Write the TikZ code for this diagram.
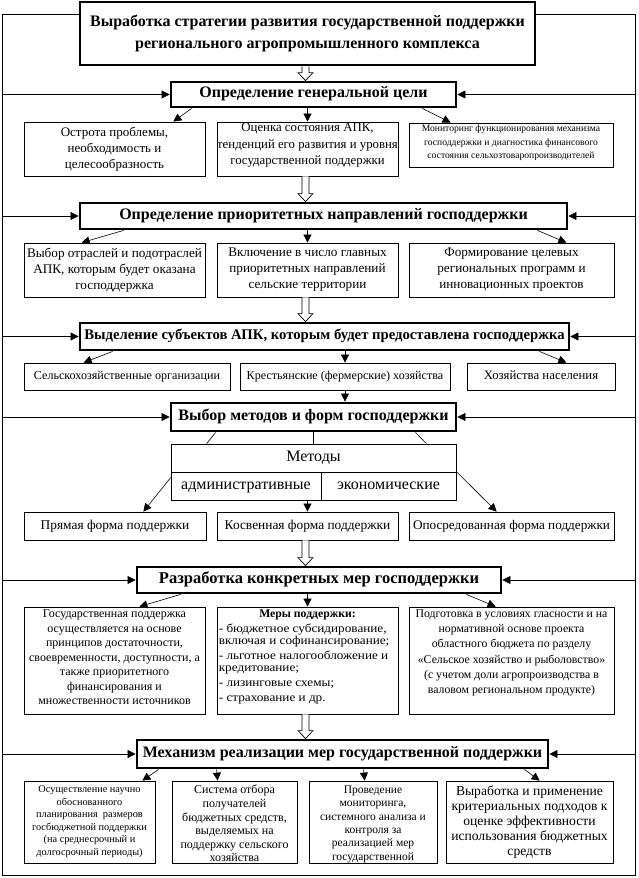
\documentclass[tikz,border=0pt]{standalone}
\usepackage{fontspec}
\setmainfont{Liberation Serif}
\newfontfamily\widefont{Liberation Serif}[FakeStretch=1.1]
\usetikzlibrary{arrows.meta,calc}
\newcommand\fs[2]{\fontsize{#1}{#2}\selectfont}
\newcommand\mkbox[7]{\node[#6,minimum width={#4-#2},minimum height={#5-#3}] (#1) at ({(#2+#4)/2},{(#3+#5)/2}) {#7};}
\newcommand\harrow[2]{\path[hol] let \p1=(#1.south), \p2=(#2.north) in (\x1-5.5pt,\y1) -- (\x1-5.5pt,\y2+8pt) -- (\x1-9.5pt,\y2+8pt) -- (\x1-2pt,\y2) -- (\x1+5.5pt,\y2+8pt) -- (\x1+1.5pt,\y2+8pt) -- (\x1+1.5pt,\y1);}
\begin{document}
\begin{tikzpicture}[x=1pt,y=-1pt,
 box/.style={draw,line width=0.75pt,fill=white,inner sep=1pt,align=center},
 tbox/.style={draw,line width=2.8pt,fill=white,inner sep=1pt,align=center},
 arr/.style={line width=0.6pt,-{Triangle[length=8pt,width=8pt]}},
 ln/.style={line width=0.6pt},
 hol/.style={draw,line width=0.7pt,fill=white},
 txt/.style={inner sep=0pt,align=center},
 one/.style={text height=8.5pt,text depth=2.5pt}]
\useasboundingbox (0,0) rectangle (638,878);
\coordinate (FTL) at (2,14);
\coordinate (FBR) at (635,875);
\draw[ln] (FTL) rectangle (FBR);

% title boxes
\mkbox{T1}{80}{2}{535}{65}{tbox,font=\fs{16}{22}\bfseries}{Выработка стратегии развития государственной поддержки\\регионального агропромышленного комплекса}
\mkbox{T2}{171}{82}{456}{107}{tbox,one,font=\fs{16}{18}\bfseries}{Определение генеральной цели}
\mkbox{T3}{80}{203}{567}{229}{tbox,one,font=\fs{16}{18}\bfseries}{Определение приоритетных направлений господдержки}
\mkbox{T4}{80}{323}{569}{350}{tbox,one,font=\fs{14.7}{18}\bfseries}{Выделение субъектов АПК, которым будет предоставлена господдержка}
\mkbox{T5}{171}{403}{456}{431}{tbox,one,font=\fs{16}{18}\bfseries}{Выбор методов и форм господдержки}
\mkbox{T6}{137}{567}{501}{593}{tbox,one,font=\fs{16.5}{18}\bfseries}{Разработка конкретных мер господдержки}
\mkbox{T7}{137}{740}{548}{768}{tbox,one,font=\fs{16}{18}\bfseries}{Механизм реализации мер государственной поддержки}

% row 2
\mkbox{R2A}{24}{122}{205}{176}{box,font=\fs{13}{16}}{Острота проблемы,\\необходимость и\\целесообразность}
\mkbox{R2B}{217}{122}{398}{176}{box}{}
\node[txt,anchor=north,font=\fs{12.8}{16.5}] (R2Bt) at ([yshift=-1.5pt]R2B.north) {Оценка состояния АПК,\\тенденций его развития и уровня\\государственной поддержки};
\mkbox{R2C}{409}{123}{613}{167}{box}{}
\node[txt,anchor=north,font=\fs{9.6}{13.5}] (R2Ct) at ([yshift=-2.5pt]R2C.north) {Мониторинг функционирования механизма\\господдержки и диагностика финансового\\состояния сельхозтоваропроизводителей};

% row 3
\mkbox{R3A}{24}{243}{205}{297}{box,font=\fs{13.2}{16}}{Выбор отраслей и подотраслей\\АПК, которым будет оказана\\господдержка}
\mkbox{R3B}{217}{243}{398}{297}{box,font=\fs{13.2}{16}}{Включение в число главных\\приоритетных направлений\\сельские территории}
\mkbox{R3C}{409}{243}{614}{297}{box,font=\fs{13.2}{16}}{Формирование целевых\\региональных программ и\\инновационных проектов}

% row 4
\mkbox{R4A}{24}{363}{230}{390}{box,one,font=\fs{12.1}{14}}{Сельскохозяйственные организации}
\mkbox{R4B}{240}{363}{450}{390}{box,one,font=\fs{12.1}{14}}{Крестьянские (фермерские) хозяйства}
\mkbox{R4C}{467}{363}{615}{390}{box,one,font=\fs{12.8}{14}}{Хозяйства населения}

% methods
\mkbox{Mt}{171}{444}{456}{472}{box,one,font=\fs{16}{18}}{Методы}
\mkbox{Ma}{171}{472}{321}{500}{box,one,font=\fs{16}{18}}{административные}
\mkbox{Me}{321}{472}{456}{500}{box,one,font=\fs{16}{18}}{экономические}

% row 5
\mkbox{R5A}{24}{512}{206}{540}{box,one,font=\fs{13.4}{14}}{Прямая форма поддержки}
\mkbox{R5B}{217}{512}{398}{540}{box,one,font=\fs{13.4}{14}}{Косвенная форма поддержки}
\mkbox{R5C}{409}{512}{614}{540}{box,one,font=\fs{13.2}{14}}{Опосредованная форма поддержки}

% row 6
\mkbox{R6A}{24}{607}{205}{714}{box}{}
\mkbox{R6B}{217}{607}{398}{714}{box}{}
\mkbox{R6C}{409}{607}{614}{714}{box}{}
\node[txt,anchor=north,font=\fs{12}{14.5}] (R6At) at ([yshift=-3pt]R6A.north) {Государственная поддержка\\осуществляется на основе\\принципов достаточности,\\своевременности, доступности, а\\также приоритетного\\финансирования и\\множественности источников};
\node[txt,anchor=north,font=\fs{11.7}{13}\bfseries] (R6Bh) at ([yshift=-3pt]R6B.north) {Меры поддержки:};
\node[txt,anchor=north west,align=left,font=\widefont\fs{12}{12.5}] (R6Bt) at ([xshift=2pt,yshift=-17pt]R6B.north west) {- бюджетное субсидирование,\\включая и софинансирование;\\[2pt]- льготное налогообложение и\\кредитование;\\[2pt]- лизинговые схемы;\\[3pt]- страхование и др.};
\node[txt,anchor=north,font=\fs{11.8}{15.2}] (R6Ct) at ([yshift=-3pt]R6C.north) {Подготовка в условиях гласности и на\\нормативной основе проекта\\областного бюджета по разделу\\«Сельское хозяйство и рыболовство»\\(с учетом доли агропроизводства в\\валовом региональном продукте)};

% row 7
\mkbox{R7A}{24}{781}{155}{863}{box}{}
\mkbox{R7B}{172}{781}{297}{863}{box}{}
\mkbox{R7C}{309}{781}{437}{863}{box}{}
\mkbox{R7D}{446}{781}{613}{863}{box}{}
\node[txt,anchor=north,font=\fs{10.3}{12.5}] (R7At) at ([yshift=-5pt]R7A.north) {Осуществление научно\\обоснованного\\планирования~ размеров\\госбюджетной поддержки\\(на среднесрочный и\\долгосрочный периоды)};
\node[txt,anchor=north,font=\fs{12}{13.6}] (R7Bt) at ([yshift=-4.5pt]R7B.north) {Система отбора\\получателей\\бюджетных средств,\\выделяемых на\\поддержку сельского\\хозяйства};
\node[txt,anchor=north,font=\fs{11.5}{13.4}] (R7Ct) at ([yshift=-5pt]R7C.north) {Проведение\\мониторинга,\\системного анализа и\\контроля за\\реализацией мер\\государственной};
\node[txt,anchor=north,font=\fs{13.6}{15}] (R7Dt) at ([yshift=-5pt]R7D.north) {Выработка и применение\\критериальных подходов к\\оценке эффективности\\использования бюджетных\\средств};

% hollow arrows
\harrow{T1}{T2}
\harrow{R2B}{T3}
\harrow{R3B}{T4}
\harrow{R5B}{T6}
\harrow{R6B}{T7}

% frame arrows
\foreach \t in {T2,T3,T4,T5,T6,T7}{
  \draw[arr] (FTL |- \t.west) -- (\t.west);
  \draw[arr] (FBR |- \t.east) -- (\t.east);
}

% T2 -> row 2
\draw[arr] ([xshift=22pt]T2.south west) -- ([xshift=-32pt]R2A.north east);
\draw[arr] (R2B.north |- T2.south) -- (R2B.north);
\draw[arr] ([xshift=-35pt]T2.south east) -- ([xshift=42pt]R2C.north west);
% T3 -> row 3
\draw[arr] ([xshift=45pt]T3.south west) -- ([xshift=58pt]R3A.north west);
\draw[arr] (R3B.north |- T3.south) -- (R3B.north);
\draw[arr] ([xshift=-31pt]T3.south east) -- ([xshift=-48pt]R3C.north east);
% T4 -> row 4
\draw[arr] ([xshift=34pt]T4.south west) -- ([xshift=60pt]R4A.north west);
\draw[arr] (R4B.north |- T4.south) -- (R4B.north);
\draw[arr] ([xshift=-31pt]T4.south east) -- ([xshift=-49pt]R4C.north east);
% row 4 -> T5
\draw[arr] (R4B.south) -- (R4B.south |- T5.north);
% T5 -- methods
\draw[ln] ([xshift=46pt]T5.south west) -- ([xshift=36pt]Mt.north west);
\draw[ln] (Mt.north |- T5.south) -- (Mt.north);
\draw[ln] ([xshift=-42pt]T5.south east) -- ([xshift=-30pt]Mt.north east);
% methods -> row 5
\draw[arr] ([yshift=-6pt]Ma.north west) -- ([xshift=-63pt]R5A.north east);
\draw[arr] (R5B.north |- Ma.south) -- (R5B.north);
\draw[arr] (Me.north east) -- ([xshift=88pt]R5C.north west);
% T6 -> row 6
\draw[arr] ([xshift=45pt]T6.south west) -- ([xshift=-66pt]R6A.north east);
\draw[arr] (R6B.north |- T6.south) -- (R6B.north);
\draw[arr] ([xshift=-36pt]T6.south east) -- ([xshift=87pt]R6C.north west);
% T7 -> row 7
\draw[arr] ([xshift=23pt]T7.south west) -- ([xshift=-13pt]R7A.north east);
\draw[arr] ([xshift=81pt]T7.south west) -- ([xshift=46pt]R7B.north west);
\draw[arr] ([xshift=228pt]T7.south west) -- ([xshift=56pt]R7C.north west);
\draw[arr] ([xshift=-25pt]T7.south east) -- ([xshift=94pt]R7D.north west);
\end{tikzpicture}
\end{document}
